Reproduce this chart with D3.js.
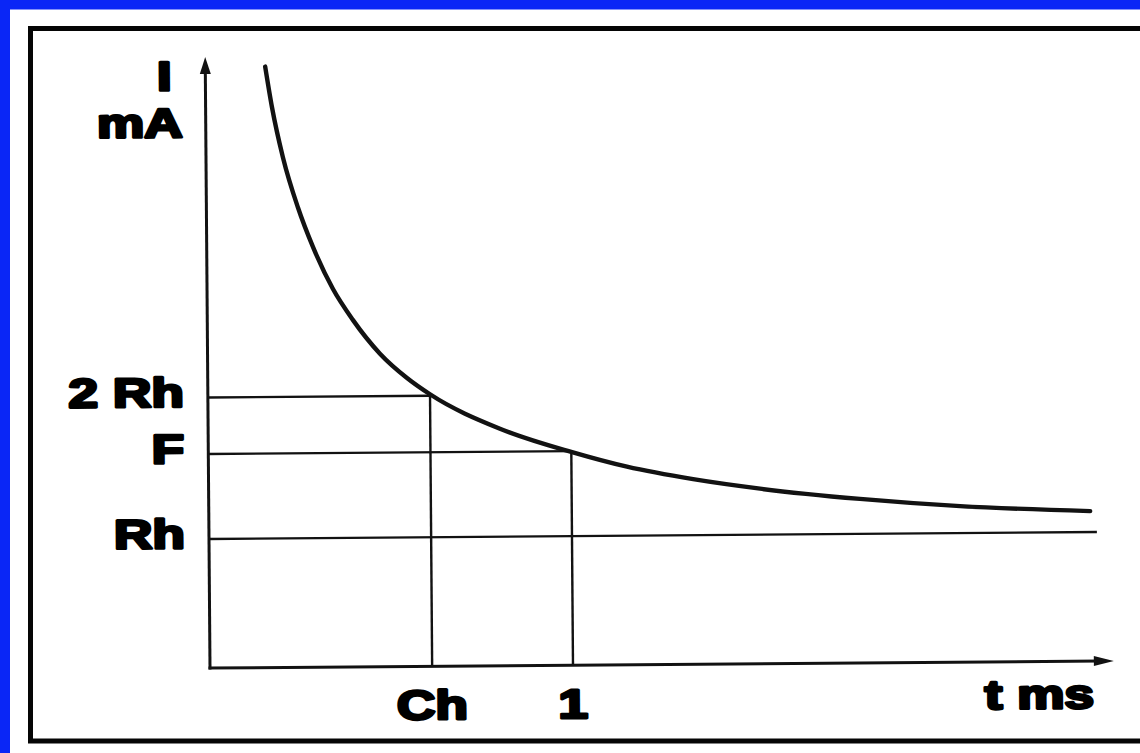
<!DOCTYPE html>
<html>
<head>
<meta charset="utf-8">
<script src="https://cdn.jsdelivr.net/npm/d3@7/dist/d3.min.js"></script>
<style>
  html, body { margin: 0; padding: 0; background: #ffffff; }
  svg { display: block; }
</style>
</head>
<body>
<svg id="chart" width="1140" height="753"></svg>
<script>
// ---- data ----
// strength-duration curve: t in ms, I in arbitrary mA units
const curveT = [0.165, 0.183, 0.212, 0.252, 0.293, 0.347, 0.401, 0.475, 0.549, 0.612, 0.804, 1.002, 1.153, 1.335, 1.519, 1.794, 2.070, 2.428];
const curveI = [60.1, 56.0, 51.0, 46.0, 42.0, 37.8, 34.7, 31.3, 28.85, 27.2, 23.7, 21.3, 19.8, 18.5, 17.5, 16.4, 15.6, 15.0];

// reference current levels (y axis labels)
const levelLabels = ["2 Rh", "F", "Rh"];
const levelValues = [27.05, 21.4, 12.9];
const levelEndT   = [0.612, 1.0, 2.446];   // where each horizontal line stops

// reference durations (x axis labels)
const timeLabels = ["Ch", "1"];
const timeValues = [0.612, 1.0];
const timeTopI   = [27.05, 21.4];          // where each vertical line starts

const yAxisTitle = ["I", "mA"];
const xAxisTitle = "t ms";
const tMax = 2.49, iMax = 61.1;

// ---- drawing ----
const svg = d3.select("#chart");
const W = 1140, H = 753;
const ink = "#121212";

svg.append("rect").attr("x", 0).attr("y", 0).attr("width", W).attr("height", H).attr("fill", "#ffffff");
// blue frame (left & top visible)
svg.append("rect").attr("x", 0).attr("y", 0).attr("width", W).attr("height", 9.5).attr("fill", "#0a26f6");
svg.append("rect").attr("x", 0).attr("y", 0).attr("width", 10).attr("height", H).attr("fill", "#0a26f6");
// black inner frame
svg.append("rect").attr("x", 30.5).attr("y", 28.5).attr("width", 1200).attr("height", 712.5)
  .attr("fill", "none").attr("stroke", "#050505").attr("stroke-width", 5);

const x = d3.scaleLinear().domain([0, 2.5]).range([210, 1117.5]);
const y = d3.scaleLinear().domain([0, 61.1]).range([668, 57]);

// slight scan tilt
const g = svg.append("g").attr("transform", `rotate(-0.45, ${x(0)}, ${y(0)})`);

// reference horizontal lines
g.selectAll("line.level").data(levelValues).join("line")
  .attr("class", "level")
  .attr("x1", x(0)).attr("x2", (d, i) => x(levelEndT[i]))
  .attr("y1", d => y(d)).attr("y2", d => y(d))
  .attr("stroke", ink).attr("stroke-width", 2.4);

// reference vertical lines
g.selectAll("line.time").data(timeValues).join("line")
  .attr("class", "time")
  .attr("x1", d => x(d)).attr("x2", d => x(d))
  .attr("y1", (d, i) => y(timeTopI[i])).attr("y2", y(0))
  .attr("stroke", ink).attr("stroke-width", 2.4);

// axes
g.append("line").attr("x1", x(0)).attr("x2", x(0)).attr("y1", y(0) + 1.5).attr("y2", y(iMax) + 12)
  .attr("stroke", ink).attr("stroke-width", 3);
g.append("line").attr("x1", x(0) - 1.5).attr("x2", x(tMax) - 14).attr("y1", y(0)).attr("y2", y(0))
  .attr("stroke", ink).attr("stroke-width", 3);
// arrow heads
const yt = [x(0), y(iMax)];
g.append("path").attr("d", `M${yt[0]},${yt[1]} L${yt[0] - 5.5},${yt[1] + 17} L${yt[0] + 5.5},${yt[1] + 17} Z`).attr("fill", ink);
const xt = [x(tMax), y(0)];
g.append("path").attr("d", `M${xt[0]},${xt[1]} L${xt[0] - 20},${xt[1] - 5} L${xt[0] - 20},${xt[1] + 5} Z`).attr("fill", ink);

// curve
const pts = curveT.map((t, i) => [t, curveI[i]]);
const line = d3.line().x(d => x(d[0])).y(d => y(d[1])).curve(d3.curveMonotoneX);
g.append("path").datum(pts).attr("d", line)
  .attr("fill", "none").attr("stroke", ink).attr("stroke-width", 4.4)
  .attr("stroke-linecap", "round");

// text helper
const font = "'Liberation Sans', Arial, Helvetica, sans-serif";
function label(txt, px, py, anchor) {
  g.append("text")
    .attr("transform", `translate(${px},${py}) scale(1.3,1)`)
    .attr("text-anchor", anchor)
    .attr("font-family", font).attr("font-weight", "bold").attr("font-size", 41)
    .attr("fill", "#000").attr("stroke", "#000").attr("stroke-width", 2.8)
    .attr("stroke-linejoin", "round")
    .text(txt);
}

levelLabels.forEach((s, i) => label(s, x(0) - 24, y(levelValues[i]) + 9, "end"));
timeLabels.forEach((s, i) => label(s, x(timeValues[i]), y(0) + 53, "middle"));
label(yAxisTitle[0], x(0) - 41, y(iMax) + 33, "middle");
label(yAxisTitle[1], x(0) - 66, y(iMax) + 80, "middle");
label(xAxisTitle, x(tMax) - 20, y(0) + 47, "end");
</script>
</body>
</html>
